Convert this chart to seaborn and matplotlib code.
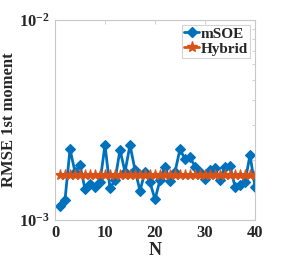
import numpy as np
import pandas as pd
import matplotlib
matplotlib.use("Agg")
import matplotlib.pyplot as plt
import seaborn as sns
from matplotlib.ticker import LogLocator, NullFormatter, FixedLocator
from matplotlib.lines import Line2D

N = list(range(1, 41))
msoe = [1.17e-3, 1.26e-3, 2.26e-3, 1.74e-3, 1.88e-3, 1.43e-3, 1.51e-3, 1.47e-3, 1.55e-3, 2.37e-3,
        1.44e-3, 1.58e-3, 2.24e-3, 1.74e-3, 2.37e-3, 1.78e-3, 1.40e-3, 1.74e-3, 1.54e-3, 1.27e-3,
        1.58e-3, 1.85e-3, 1.57e-3, 1.74e-3, 2.26e-3, 2.01e-3, 2.06e-3, 1.85e-3, 1.74e-3, 1.60e-3,
        1.78e-3, 1.81e-3, 1.58e-3, 1.85e-3, 1.86e-3, 1.47e-3, 1.50e-3, 1.55e-3, 2.11e-3, 1.47e-3]
hybrid = [1.68e-3] * 40
series_names = ["mSOE", "Hybrid"]
xlabel = "N"
ylabel = "RMSE 1st moment"
xticks = [0, 10, 20, 30, 40]

df = pd.DataFrame({
    "N": N * 2,
    "RMSE": msoe + hybrid,
    "Method": [series_names[0]] * 40 + [series_names[1]] * 40,
})

sns.set_style("white")
plt.rcParams["font.family"] = ["Liberation Serif", "DejaVu Serif"]
plt.rcParams["mathtext.fontset"] = "custom"
plt.rcParams["mathtext.rm"] = "Liberation Serif:bold"
plt.rcParams["mathtext.it"] = "Liberation Serif:bold"
plt.rcParams["mathtext.bf"] = "Liberation Serif:bold"

fig = plt.figure(figsize=(2.93, 2.63), dpi=100)
ax = fig.add_axes([55/293, 1 - 220/263, 200/293, 200/263])

palette = {"mSOE": "#0072BD", "Hybrid": "#D95319"}
markers = {"mSOE": "D", "Hybrid": "*"}
msizes = {"mSOE": 5, "Hybrid": 8}
for m in series_names:
    sns.lineplot(data=df[df["Method"] == m], x="N", y="RMSE", color=palette[m],
                 marker=markers[m], linewidth=2, markersize=msizes[m],
                 markeredgewidth=0.8, markeredgecolor=palette[m], ax=ax, legend=False)

ax.set_yscale("log")
ax.set_ylim(1e-3, 1e-2)
ax.set_xlim(0, 40)
ax.xaxis.set_major_locator(FixedLocator(xticks))
ax.yaxis.set_major_locator(FixedLocator([1e-3, 1e-2]))
ax.yaxis.set_minor_locator(LogLocator(base=10, subs=np.arange(2, 10)))
ax.yaxis.set_minor_formatter(NullFormatter())
ax.set_yticklabels([r"$10^{-3}$", r"$10^{-2}$"])
ax.set_xlabel(xlabel, fontsize=13, fontweight="bold", labelpad=1)
ax.set_ylabel(ylabel, fontsize=12, fontweight="bold", labelpad=2)

for sp in ax.spines.values():
    sp.set_color("#c8c8c8")
    sp.set_linewidth(0.8)
ax.tick_params(which="both", direction="in", top=True, right=True, color="#c8c8c8",
               labelsize=12, width=0.6)
ax.tick_params(which="major", length=3)
ax.tick_params(which="minor", length=2)
for lab in ax.get_xticklabels() + ax.get_yticklabels():
    lab.set_fontweight("bold")

handles = [Line2D([], [], color=palette[m], marker=markers[m], linewidth=2,
                  markersize=msizes[m], markeredgecolor=palette[m]) for m in series_names]
leg = ax.legend(handles, series_names, loc="upper right",
                prop={"family": "Liberation Serif", "weight": "bold", "size": 11},
                frameon=True, fancybox=False,
                borderpad=0.15, labelspacing=0.1, handlelength=1.0, handletextpad=0.1,
                borderaxespad=0.3)
leg.get_frame().set_edgecolor("#c8c8c8")
leg.get_frame().set_linewidth(0.8)

fig.savefig("out.png", dpi=100)
